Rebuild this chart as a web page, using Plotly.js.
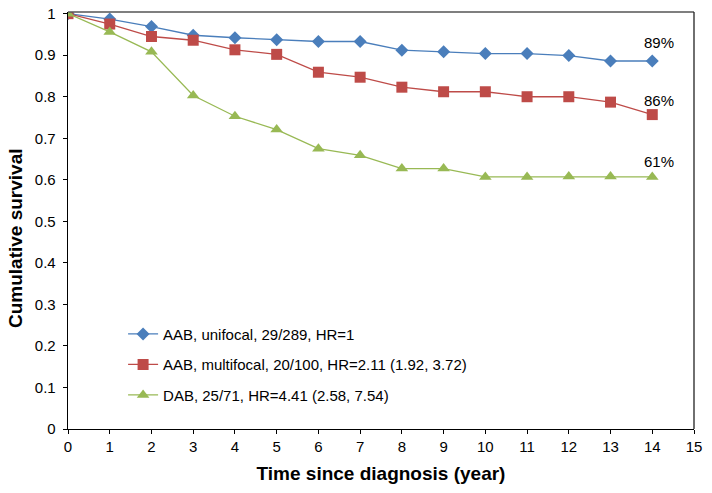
<!DOCTYPE html>
<html>
<head>
<meta charset="utf-8">
<script src="https://cdn.plot.ly/plotly-3.0.1.min.js"></script>
<style>html,body{margin:0;padding:0;background:#fff;}#chart{width:712px;height:493px;}</style>
</head>
<body>
<div id="chart"></div>
<script>
var years = [0,1,2,3,4,5,6,7,8,9,10,11,12,13,14];
var seriesNames = [
  "AAB, unifocal, 29/289, HR=1",
  "AAB, multifocal, 20/100, HR=2.11 (1.92, 3.72)",
  "DAB, 25/71, HR=4.41 (2.58, 7.54)"
];
var unifocal   = [1.0, 0.987, 0.969, 0.948, 0.942, 0.937, 0.933, 0.933, 0.912, 0.908, 0.904, 0.904, 0.899, 0.886, 0.886];
var multifocal = [1.0, 0.975, 0.945, 0.936, 0.913, 0.902, 0.859, 0.847, 0.823, 0.812, 0.812, 0.800, 0.800, 0.787, 0.757];
var dab        = [1.0, 0.956, 0.908, 0.803, 0.753, 0.721, 0.675, 0.659, 0.627, 0.627, 0.607, 0.607, 0.608, 0.608, 0.607];
var endLabels = ["89%", "86%", "61%"];
var endLabelX = [14.16, 14.16, 14.16];
var endLabelY = [0.931, 0.792, 0.645];
var xTitle = "Time since diagnosis (year)";
var yTitle = "Cumulative survival";

var colors = ["#4A7EBB", "#BE4B48", "#98B954"];
var symbols = ["diamond", "square", "triangle-up"];
var sizes = [10, 11, 11];
var values = [unifocal, multifocal, dab];
var FONT = "Liberation Sans, Arial, sans-serif";

var traces = values.map(function(v, i){
  return {
    x: years, y: v, type: "scatter", mode: "lines+markers",
    name: seriesNames[i], legendgroup: "g" + i,
    line: {color: colors[i], width: 1.3},
    marker: {color: colors[i], symbol: symbols[i], size: sizes[i], line: {width: 0}}
  };
});

var annotations = endLabels.map(function(t, i){
  return {x: endLabelX[i], y: endLabelY[i], xref: "x", yref: "y", text: t, showarrow: false,
          font: {family: FONT, size: 15, color: "#000"}};
});
annotations.push({xref: "paper", yref: "paper", x: -0.0847, y: 0.458, xanchor: "center", yanchor: "middle",
  textangle: -90, text: yTitle, showarrow: false,
  font: {family: FONT, size: 19, color: "#000", weight: "bold"}});

var layout = {
  width: 712, height: 493,
  margin: {l: 68, r: 18, t: 12, b: 64},
  paper_bgcolor: "#fff", plot_bgcolor: "#fff",
  font: {family: FONT, size: 15, color: "#000"},
  showlegend: true,
  legend: {x: 0.088, y: 0.267, xanchor: "left", yanchor: "top", bgcolor: "rgba(0,0,0,0)",
           traceorder: "grouped", tracegroupgap: 8, font: {size: 15}},
  xaxis: {range: [0, 15], dtick: 1, tick0: 0, showgrid: false, zeroline: false,
          showline: true, linecolor: "#000", linewidth: 1.3, ticks: "outside", ticklen: 4, tickcolor: "#000",
          title: {text: xTitle, font: {size: 19, family: FONT, weight: "bold"}, standoff: 12}},
  yaxis: {range: [0, 1.004], dtick: 0.1, tick0: 0, showgrid: false, zeroline: false,
          showline: true, linecolor: "#000", linewidth: 1.3, ticks: "outside", ticklen: 4, tickcolor: "#000",
          ticklabelstandoff: 4},
  shapes: [
    {type: "line", xref: "paper", yref: "paper", x0: 0, x1: 1, y0: 1, y1: 1, line: {color: "#555", width: 1.3}},
    {type: "line", xref: "paper", yref: "paper", x0: 1, x1: 1, y0: 0, y1: 1, line: {color: "#222", width: 1.3}}
  ],
  annotations: annotations
};

Plotly.newPlot("chart", traces, layout, {displayModeBar: false, staticPlot: true});
</script>
</body>
</html>
